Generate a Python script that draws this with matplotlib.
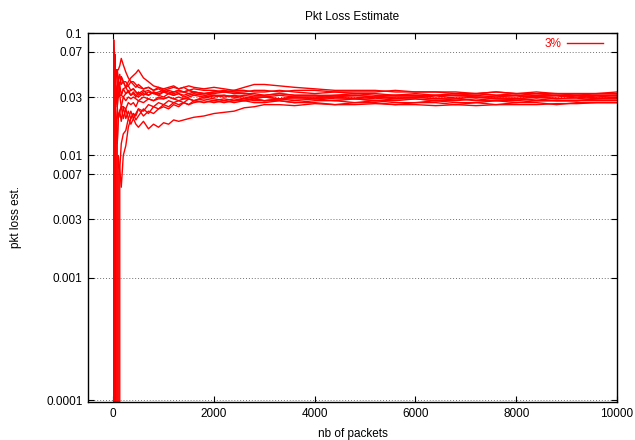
import matplotlib
matplotlib.use("Agg")
import matplotlib.pyplot as plt

plt.rcParams['font.family'] = ['Liberation Sans', 'DejaVu Sans']

# packet counts where the running estimate was read off
packets = [0, 10, 20, 30, 40, 60, 80, 100, 130, 160,
           200, 250, 300, 350, 400, 450, 500, 600, 700, 800,
           900, 1000, 1100, 1200, 1300, 1400, 1500, 1600, 1800, 2000,
           2200, 2400, 2600, 2800, 3000, 3300, 3600, 4000, 4400, 4800,
           5200, 5600, 6000, 6400, 6800, 7200, 7600, 8000, 8400, 8800,
           9200, 9600, 10000]

# loss estimate of each run (0 = no loss seen yet)
run_a = [0, 0.088, 0.05, 0.067, 0.05, 0.05, 0.05, 0.04, 0.038, 0.044,
         0.04, 0.036, 0.037, 0.034, 0.035, 0.033, 0.032, 0.034, 0.031, 0.033,
         0.031, 0.030, 0.032, 0.031, 0.032, 0.030, 0.031, 0.032, 0.031, 0.030,
         0.031, 0.030, 0.029, 0.030, 0.030, 0.029, 0.030, 0.029, 0.030, 0.029,
         0.030, 0.029, 0.030, 0.029, 0.029, 0.030, 0.029, 0.029, 0.030, 0.029,
         0.029, 0.030, 0.030]
run_b = [0, 0, 0.05, 0.033, 0.05, 0.05, 0.05, 0.05, 0.054, 0.062,
         0.055, 0.048, 0.043, 0.04, 0.04, 0.038, 0.036, 0.035, 0.036, 0.034,
         0.035, 0.033, 0.034, 0.033, 0.034, 0.033, 0.034, 0.033, 0.032, 0.032,
         0.033, 0.032, 0.032, 0.031, 0.031, 0.032, 0.031, 0.031, 0.031, 0.032,
         0.031, 0.031, 0.031, 0.030, 0.031, 0.031, 0.030, 0.030, 0.031, 0.031,
         0.030, 0.031, 0.031]
run_c = [0, 0, 0, 0.033, 0.025, 0.033, 0.037, 0.04, 0.031, 0.031,
         0.03, 0.032, 0.033, 0.031, 0.032, 0.030, 0.033, 0.031, 0.033, 0.032,
         0.031, 0.033, 0.032, 0.031, 0.032, 0.031, 0.032, 0.031, 0.032, 0.033,
         0.033, 0.034, 0.036, 0.038, 0.038, 0.037, 0.036, 0.035, 0.034, 0.034,
         0.034, 0.033, 0.033, 0.033, 0.032, 0.032, 0.033, 0.032, 0.032, 0.032,
         0.031, 0.032, 0.032]
run_d = [0, 0, 0, 0, 0.025, 0.033, 0.037, 0.03, 0.031, 0.031,
         0.035, 0.036, 0.04, 0.043, 0.045, 0.047, 0.05, 0.043, 0.040, 0.037,
         0.036, 0.034, 0.035, 0.036, 0.035, 0.036, 0.034, 0.035, 0.034, 0.034,
         0.033, 0.033, 0.032, 0.032, 0.031, 0.032, 0.031, 0.031, 0.030, 0.031,
         0.030, 0.030, 0.030, 0.029, 0.030, 0.030, 0.029, 0.029, 0.030, 0.029,
         0.030, 0.029, 0.030]
run_e = [0, 0, 0, 0, 0, 0, 0, 0.01, 0.0077, 0.0055,
         0.01, 0.012, 0.017, 0.02, 0.022, 0.021, 0.024, 0.023, 0.026, 0.025,
         0.027, 0.026, 0.028, 0.027, 0.028, 0.027, 0.029, 0.028, 0.029, 0.028,
         0.029, 0.028, 0.029, 0.028, 0.028, 0.029, 0.028, 0.029, 0.028, 0.029,
         0.028, 0.028, 0.029, 0.028, 0.028, 0.029, 0.028, 0.029, 0.028, 0.028,
         0.028, 0.029, 0.029]
run_f = [0, 0, 0, 0, 0, 0.017, 0.025, 0.02, 0.023, 0.025,
         0.02, 0.024, 0.02, 0.018, 0.02, 0.018, 0.017, 0.019, 0.0165, 0.018,
         0.017, 0.0185, 0.018, 0.0195, 0.019, 0.0195, 0.02, 0.0205, 0.021, 0.022,
         0.0225, 0.023, 0.0245, 0.025, 0.026, 0.026, 0.0255, 0.0265, 0.026, 0.026,
         0.0265, 0.026, 0.026, 0.0255, 0.026, 0.0255, 0.026, 0.026, 0.026, 0.0265,
         0.0265, 0.027, 0.027]
run_g = [0, 0, 0, 0, 0.025, 0.017, 0.0125, 0.02, 0.023, 0.019,
         0.025, 0.02, 0.023, 0.02, 0.022, 0.0195, 0.021, 0.024, 0.022, 0.025,
         0.024, 0.026, 0.025, 0.027, 0.026, 0.027, 0.026, 0.028, 0.027, 0.028,
         0.027, 0.028, 0.028, 0.029, 0.028, 0.028, 0.027, 0.028, 0.028, 0.027,
         0.028, 0.027, 0.027, 0.028, 0.027, 0.027, 0.028, 0.027, 0.028, 0.028,
         0.028, 0.028, 0.028]
run_h = [0, 0, 0, 0.067, 0.05, 0.05, 0.05, 0.04, 0.046, 0.038,
         0.04, 0.036, 0.033, 0.034, 0.035, 0.033, 0.031, 0.033, 0.034, 0.032,
         0.033, 0.034, 0.033, 0.032, 0.033, 0.033, 0.032, 0.033, 0.032, 0.031,
         0.031, 0.030, 0.031, 0.030, 0.030, 0.031, 0.030, 0.030, 0.031, 0.031,
         0.030, 0.031, 0.031, 0.031, 0.032, 0.032, 0.031, 0.032, 0.031, 0.032,
         0.032, 0.032, 0.033]
run_i = [0, 0, 0, 0, 0, 0, 0.0125, 0.02, 0.023, 0.025,
         0.03, 0.028, 0.03, 0.029, 0.03, 0.029, 0.028, 0.03, 0.029, 0.028,
         0.03, 0.029, 0.03, 0.029, 0.028, 0.029, 0.029, 0.028, 0.030, 0.029,
         0.028, 0.029, 0.028, 0.029, 0.028, 0.029, 0.029, 0.029, 0.030, 0.030,
         0.029, 0.030, 0.030, 0.031, 0.031, 0.030, 0.030, 0.031, 0.030, 0.030,
         0.031, 0.031, 0.031]
run_j = [0, 0, 0.05, 0.067, 0.05, 0.05, 0.038, 0.03, 0.031, 0.025,
         0.025, 0.024, 0.027, 0.026, 0.027, 0.025, 0.028, 0.027, 0.029, 0.028,
         0.029, 0.029, 0.030, 0.029, 0.030, 0.029, 0.030, 0.031, 0.030, 0.031,
         0.030, 0.031, 0.030, 0.029, 0.030, 0.029, 0.030, 0.030, 0.029, 0.029,
         0.028, 0.029, 0.029, 0.028, 0.029, 0.028, 0.028, 0.028, 0.029, 0.028,
         0.028, 0.029, 0.029]
run_k = [0, 0, 0, 0, 0.05, 0.033, 0.025, 0.03, 0.038, 0.031,
         0.035, 0.032, 0.034, 0.031, 0.033, 0.031, 0.03, 0.032, 0.031, 0.033,
         0.032, 0.033, 0.032, 0.033, 0.034, 0.033, 0.034, 0.033, 0.032, 0.033,
         0.034, 0.033, 0.033, 0.034, 0.034, 0.033, 0.034, 0.034, 0.033, 0.033,
         0.033, 0.034, 0.033, 0.033, 0.033, 0.032, 0.033, 0.032, 0.033, 0.032,
         0.032, 0.032, 0.032]
run_l = [0, 0, 0, 0, 0, 0, 0, 0, 0.0077, 0.0125,
         0.015, 0.016, 0.02, 0.023, 0.02, 0.022, 0.024, 0.021, 0.023, 0.022,
         0.024, 0.025, 0.024, 0.026, 0.025, 0.027, 0.026, 0.027, 0.028, 0.027,
         0.028, 0.027, 0.028, 0.027, 0.027, 0.028, 0.027, 0.027, 0.026, 0.027,
         0.027, 0.026, 0.027, 0.027, 0.026, 0.027, 0.026, 0.027, 0.027, 0.026,
         0.027, 0.027, 0.027]
run_m = [0, 0, 0.05, 0.033, 0.025, 0.033, 0.025, 0.04, 0.038, 0.044,
         0.04, 0.04, 0.037, 0.04, 0.038, 0.036, 0.038, 0.035, 0.036, 0.034,
         0.036, 0.035, 0.036, 0.037, 0.035, 0.036, 0.037, 0.036, 0.035, 0.036,
         0.035, 0.034, 0.034, 0.033, 0.033, 0.034, 0.033, 0.032, 0.033, 0.032,
         0.032, 0.031, 0.032, 0.031, 0.031, 0.032, 0.031, 0.031, 0.030, 0.031,
         0.031, 0.030, 0.031]

runs = [run_a, run_b, run_c, run_d, run_e, run_f, run_g, run_h, run_i,
        run_j, run_k, run_l, run_m]

ytick_vals = [0.0001, 0.001, 0.003, 0.007, 0.01, 0.03, 0.07, 0.1]
ytick_labels = ['0.0001', '0.001', '0.003', '0.007', '0.01', '0.03', '0.07', '0.1']
xtick_vals = [0, 2000, 4000, 6000, 8000, 10000]

fig = plt.figure(figsize=(6.35, 4.4), dpi=100)
ax = fig.add_axes([0.1386, 0.0864, 0.8331, 0.8386])

for i, r in enumerate(runs):
    ax.plot(packets, r, color='#ff0000', lw=1.0, label='3%' if i == 0 else None)

ax.set_yscale('log', nonpositive='clip')
ax.set_xlim(-500, 10000)
ax.set_ylim(9.7e-5, 0.1)
ax.set_yticks(ytick_vals)
ax.set_yticklabels(ytick_labels)
ax.minorticks_off()
ax.set_xticks(xtick_vals)

for v in ytick_vals:
    ax.axhline(v, color='#707070', lw=0.7, ls=(0, (1, 2)), zorder=0)

ax.tick_params(direction='in', length=4, width=0.8, top=True, right=True,
               labelsize=8.5, pad=4)
for s in ax.spines.values():
    s.set_linewidth(1.0)

ax.set_title('Pkt Loss Estimate', fontsize=8.5, pad=9)
ax.set_xlabel('nb of packets', fontsize=8.5, labelpad=6)
ax.set_ylabel('pkt loss est.', fontsize=8.5, labelpad=17)

ax.legend(loc='upper right', bbox_to_anchor=(0.982, 0.998), frameon=False,
          markerfirst=False, fontsize=8.5, labelcolor='#ff0000',
          handlelength=3.0, handletextpad=0.5, borderaxespad=0)

fig.savefig('out.png', dpi=100)
